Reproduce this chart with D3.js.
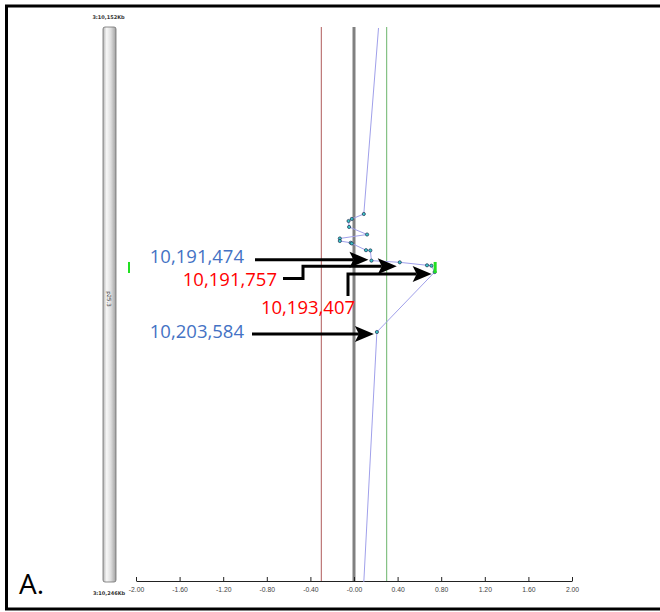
<!DOCTYPE html>
<html>
<head>
<meta charset="utf-8">
<script src="https://d3js.org/d3.v7.min.js"></script>
<style>
body { margin: 0; background: #fff; }
svg { display: block; }
</style>
</head>
<body>
<div id="plot"></div>
<script>
var width = 660, height = 612;

// chromosome window (Kb)
var chromStart = 10152, chromEnd = 10246;
var chromLabels = ["3:10,152Kb", "3:10,246Kb"];
var bandLabel = "p25.3";

// blue trace: genomic position (Kb) and value
var positions = [10152, 10183.56, 10184.40, 10184.75, 10185.76, 10187.04, 10187.71, 10188.14,
  10188.44, 10188.56, 10189.70, 10189.74, 10191.474, 10191.757, 10192.26, 10192.33,
  10193.407, 10203.584, 10246];
var values = [0.225, 0.09, -0.02, -0.05, -0.045, 0.12, -0.13, -0.13,
  -0.03, -0.02, 0.11, 0.15, 0.16, 0.42, 0.67, 0.71,
  0.74, 0.21, 0.09];

// reference lines
var refValues = [-0.3, 0, 0.3];
var refColors = ["#b05a5a", "#808080", "#6ab46a"];
var refWidths = [1, 3, 1];

// highlighted region (Kb)
var region = [10191.70, 10193.57];
var regionValue = 0.74;

var tickValues = [-2, -1.6, -1.2, -0.8, -0.4, 0, 0.4, 0.8, 1.2, 1.6, 2];
var tickLabels = ["-2.00", "-1.60", "-1.20", "-0.80", "-0.40", "-0.00", "0.40", "0.80", "1.20", "1.60", "2.00"];

// annotations
var annPositions = [10191.474, 10191.757, 10193.407, 10203.584];
var annValues = [0.16, 0.42, 0.74, 0.21];
var annLabels = ["10,191,474", "10,191,757", "10,193,407", "10,203,584"];
var annColors = ["#4472c4", "#ff0000", "#ff0000", "#4472c4"];

var svg = d3.select("#plot").append("svg").attr("width", width).attr("height", height);

var x = d3.scaleLinear().domain([-2, 2]).range([136, 572]);
var y = d3.scaleLinear().domain([chromStart, chromEnd]).range([28, 582]);

// frame
svg.append("rect").attr("x", 6.5).attr("y", 6).attr("width", 680).attr("height", 603)
  .style("fill", "white").style("stroke", "black").style("stroke-width", 3);

// chromosome ideogram
var grad = svg.append("defs").append("linearGradient").attr("id", "chrom")
  .attr("x1", "0%").attr("x2", "100%").attr("y1", "0%").attr("y2", "0%");
[["0%", "#b4b4b4"], ["28%", "#f7f7f7"], ["60%", "#dedede"], ["100%", "#a0a0a0"]].forEach(function (s) {
  grad.append("stop").attr("offset", s[0]).attr("stop-color", s[1]);
});

svg.append("rect").attr("x", 103).attr("y", y(chromStart) - 1)
  .attr("width", 13).attr("height", y(chromEnd) - y(chromStart) + 1)
  .attr("rx", 2)
  .style("fill", "url(#chrom)").style("stroke", "#707070").style("stroke-width", 0.8);

svg.append("text").attr("transform", "translate(108.5," + (y((chromStart + chromEnd) / 2) - 6) + ") rotate(90)")
  .attr("text-anchor", "middle").attr("dy", "0.35em")
  .style("font-family", "DejaVu Sans").style("font-size", "5.5px").style("fill", "#333")
  .text(bandLabel);

svg.append("text").attr("x", 108.5).attr("y", 19)
  .attr("text-anchor", "middle")
  .style("font-family", "DejaVu Sans").style("font-weight", "bold").style("font-size", "5px").style("fill", "#333")
  .text(chromLabels[0]);
svg.append("text").attr("x", 109).attr("y", 595)
  .attr("text-anchor", "middle")
  .style("font-family", "DejaVu Sans").style("font-weight", "bold").style("font-size", "5px").style("fill", "#333")
  .text(chromLabels[1]);

// reference lines
svg.selectAll(".ref").data(refValues).enter().append("line")
  .attr("class", "ref")
  .attr("x1", d => x(d)).attr("x2", d => x(d))
  .attr("y1", y(chromStart) - 1).attr("y2", y(chromEnd) - 1)
  .style("stroke", (d, i) => refColors[i])
  .style("stroke-width", (d, i) => refWidths[i]);

// axis
var axis = d3.axisBottom(x).tickValues(tickValues)
  .tickFormat((d, i) => tickLabels[i]).tickSizeInner(-4).tickSizeOuter(0).tickPadding(6);
var gx = svg.append("g").attr("transform", "translate(0,581)").call(axis);
gx.select(".domain").style("stroke", "#222");
gx.selectAll(".tick line").style("stroke", "#222");
gx.selectAll("text").style("font-family", "Liberation Sans").style("font-size", "6.8px").style("fill", "#444");

// trace
var pts = positions.map((p, i) => ({ pos: p, val: values[i] }));
svg.append("path").datum(pts)
  .attr("d", d3.line().x(d => x(d.val)).y(d => y(d.pos)))
  .style("fill", "none").style("stroke", "#a0a0ea").style("stroke-width", 1);

svg.selectAll(".pt").data(pts.slice(1, pts.length - 1)).enter().append("circle")
  .attr("class", "pt")
  .attr("cx", d => x(d.val)).attr("cy", d => y(d.pos)).attr("r", 1.6)
  .style("fill", "#3cc8c8").style("stroke", "#1c2c50").style("stroke-width", 0.7);

// region markers
svg.append("rect").attr("x", x(-2) - 8).attr("y", y(region[0]))
  .attr("width", 2).attr("height", y(region[1]) - y(region[0]))
  .style("fill", "#22e022");
svg.append("rect").attr("x", x(regionValue) - 1).attr("y", y(region[0]))
  .attr("width", 3).attr("height", y(region[1]) - y(region[0]))
  .style("fill", "#22e022");

// annotation arrows
var tailX = [255, 283, 348, 252];
var elbowX = [null, 303, 348, null];
var tailY = [null, 278.5, 296, null];
var tipDy = [-1, 4, 2, 2];
var labelX = [244, 277, 308, 244];
var labelY = [257, 280, 308, 331.5];
var labelAnchor = ["end", "end", "middle", "end"];

function arrowPath(i) {
  var tx = x(annValues[i]) - 3, ty = y(annPositions[i]) + tipDy[i];
  var hx = tx - 15;
  if (elbowX[i] === null) return "M" + tailX[i] + "," + ty + "L" + hx + "," + ty;
  if (elbowX[i] === tailX[i]) return "M" + tailX[i] + "," + tailY[i] + "V" + ty + "H" + hx;
  return "M" + tailX[i] + "," + tailY[i] + "H" + elbowX[i] + "V" + ty + "H" + hx;
}

svg.selectAll(".arrow").data(annPositions).enter().append("path")
  .attr("class", "arrow")
  .attr("d", (d, i) => arrowPath(i))
  .style("fill", "none").style("stroke", "black").style("stroke-width", 3)
  .style("stroke-linejoin", "miter");

svg.selectAll(".head").data(annPositions).enter().append("path")
  .attr("class", "head")
  .attr("transform", (d, i) => "translate(" + (x(annValues[i]) - 3) + "," + (y(d) + tipDy[i]) + ")")
  .attr("d", "M0,0L-19,-8L-15,0L-19,8Z")
  .style("fill", "black");

svg.selectAll(".ann").data(annLabels).enter().append("text")
  .attr("class", "ann")
  .attr("x", (d, i) => labelX[i]).attr("y", (d, i) => labelY[i])
  .attr("dy", "0.35em").attr("text-anchor", (d, i) => labelAnchor[i])
  .style("font-family", "Open Sans").style("font-size", "18.5px")
  .style("fill", (d, i) => annColors[i])
  .text(d => d);

svg.append("text").attr("x", 19).attr("y", 594)
  .style("font-family", "Open Sans").style("font-size", "28px").style("fill", "black")
  .text("A.");
</script>
</body>
</html>
